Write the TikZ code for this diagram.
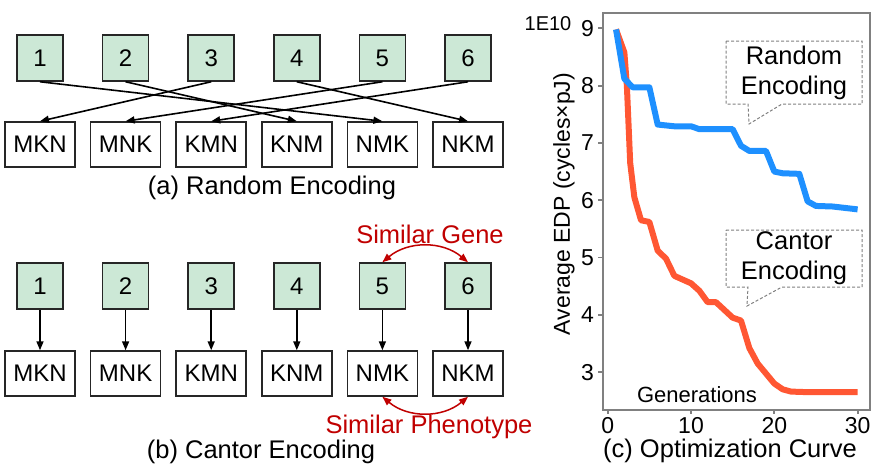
\documentclass[tikz,border=0pt]{standalone}
\usepackage{fontspec}
\setmainfont{Liberation Sans}
\usepackage{xcolor}
\usetikzlibrary{arrows.meta}

\definecolor{genegreen}{RGB}{204,232,214}
\definecolor{simred}{RGB}{192,0,0}
\definecolor{curveblue}{RGB}{30,144,255}
\definecolor{curveorange}{RGB}{255,87,51}

\tikzset{
    genebox/.style={draw=black!85, fill=genegreen, line width=1.5pt, minimum width=46pt, minimum height=46pt, inner sep=0pt, font=\fontsize{24}{28}\selectfont},
    codebox/.style={draw=black!85, fill=white, line width=1.5pt, minimum width=70pt, minimum height=45pt, inner sep=0pt, font=\fontsize{24}{28}\selectfont},
    maparrow/.style={line width=1.6pt, -{Triangle[length=9pt,width=7pt]}},
    simarrow/.style={simred, line width=1.5pt, {Triangle[length=9pt,width=7pt]}-{Triangle[length=9pt,width=7pt]}},
    captext/.style={font=\fontsize{25.5}{30}\selectfont},
    ticktext/.style={font=\fontsize{23}{27}\selectfont, inner sep=0pt},
    axisline/.style={draw=black!50, line width=1.8pt},
    callout/.style={draw=black!50, line width=1pt, dash pattern=on 3pt off 2pt},
    curve/.style={line width=6pt, line join=round}
}

\begin{document}
\begin{tikzpicture}[x=1pt, y=-1pt]
    \useasboundingbox (0,0) rectangle (896,469);

    % (a) Random encoding
    \foreach \i/\lab in {1/MKN,2/MNK,3/KMN,4/KNM,5/NMK,6/NKM} {
        \node[genebox] (ra\i) at ({40+85.6*(\i-1)},58) {\i};
        \node[codebox] (rb\i) at ({40+85.6*(\i-1)},144.5) {\lab};
    }
    \foreach \i/\j in {1/5,2/4,3/1,4/6,5/2,6/3}
        \draw[maparrow] (ra\i.south) -- (rb\j.north);
    \node[captext] (capa) at (272,188) {(a) Random Encoding};

    % (b) Cantor encoding
    \foreach \i/\lab in {1/MKN,2/MNK,3/KMN,4/KNM,5/NMK,6/NKM} {
        \node[genebox] (ca\i) at ({40+85.6*(\i-1)},286) {\i};
        \node[codebox] (cb\i) at ({40+85.6*(\i-1)},373.5) {\lab};
        \draw[maparrow] (ca\i) -- (cb\i);
    }
    \draw[simarrow] (ca5.north) to[bend left=40] (ca6.north);
    \draw[simarrow] (cb5.south) to[bend right=40] (cb6.south);
    \node[captext, text=simred] (simgene) at (430,234) {Similar Gene};
    \node[captext, text=simred] (simpheno) at (429,427) {Similar Phenotype};
    \node[captext] (capb) at (261,452) {(b) Cantor Encoding};

    % (c) Optimization curve
    \begin{scope}[shift={(607.7,544)}, xscale=8.33, yscale=-57.3]
        \draw[curveorange, curve] plot coordinates {(1,8.98) (2,8.58) (2.3,8.0) (2.7,6.65) (3.2,6.05) (4,5.65) (5,5.62) (6,5.12) (7,4.98) (8,4.68) (10,4.55) (11,4.42) (12,4.22) (13,4.22) (15,3.95) (16,3.9) (17,3.42) (18,3.15) (20,2.8) (21,2.7) (22,2.66) (24,2.65) (30,2.65)};
        \draw[curveblue, curve] plot coordinates {(1,8.98) (2,8.12) (3,7.97) (5,7.97) (6,7.32) (8,7.29) (10,7.29) (11,7.24) (15,7.24) (16,6.95) (17,6.86) (19,6.86) (20,6.5) (21,6.47) (23,6.46) (24,5.98) (25,5.9) (27,5.89) (30,5.84)};
    \end{scope}
    \draw[axisline] (603,13) rectangle (870,410);
    \foreach \v in {3,...,9} {
        \draw[axisline] (598,{544-57.3*\v}) -- (603,{544-57.3*\v});
        \node[ticktext, anchor=east] (yt\v) at (594,{544-57.3*\v}) {\v};
    }
    \foreach \g in {0,10,20,30} {
        \draw[axisline] ({607.7+8.33*\g},410) -- ({607.7+8.33*\g},414);
        \node[ticktext] (xt\g) at ({607.7+8.33*\g},426) {\g};
    }
    \node[ticktext, font=\fontsize{20}{24}\selectfont] (expo) at (548,24) {1E10};
    \node[rotate=90, font=\fontsize{23}{27}\selectfont] (ylab) at (564,204) {Average EDP (cycles×pJ)};
    \node[font=\fontsize{22}{26}\selectfont] (gens) at (697,395) {Generations};
    \node[captext, inner sep=0pt] (capc) at (730,451) {(c) Optimization Curve};

    % Callouts
    \draw[callout] (726,41) -- (862,41) -- (862,104) -- (782,104) -- (749,124) -- (748,104) -- (726,104) -- cycle;
    \node[captext, align=center] (rndtxt) at (794,72.5) {Random\\Encoding};
    \draw[callout] (726,230) -- (862,230) -- (862,287) -- (782,287) -- (747,306) -- (748,287) -- (726,287) -- cycle;
    \node[captext, align=center] (cantxt) at (794,258.5) {Cantor\\Encoding};
\end{tikzpicture}
\end{document}
